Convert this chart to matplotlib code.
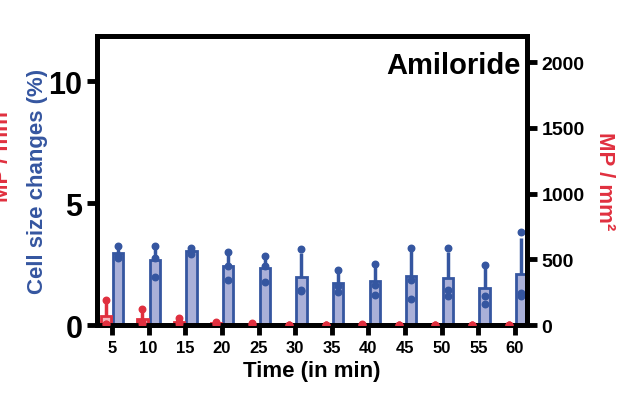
import matplotlib.pyplot as plt
import numpy as np

plt.rcParams["font.family"] = "Liberation Sans"

TIMES = [5, 10, 15, 20, 25, 30, 35, 40, 45, 50, 55, 60]
# cell size changes (%) per replicate
CELL_SIZE = [
    [3.25, 2.85, 2.75], [3.25, 2.75, 1.95], [3.15, 3.05, 2.9], [3.0, 2.4, 1.85],
    [2.85, 2.4, 1.75], [3.1, 1.45, 1.4], [2.25, 1.6, 1.35], [2.5, 1.65, 1.25],
    [3.15, 1.85, 1.05], [3.15, 1.45, 1.2], [2.45, 1.2, 0.85], [3.8, 1.3, 1.2],
]
# MP / mm2 per replicate
MP = [
    [190, 10, 5], [120, 20, 5], [50, 20, 5], [20, 10, 5], [15, 5, 0], [0, 0, 0],
    [0, 0, 0], [10, 0, 0], [0, 0, 0], [0, 0, 0], [0, 0, 0], [0, 0, 0],
]

BLUE, BLUE_FILL = "#3556a0", "#aab0d8"
RED, RED_FILL = "#e0303f", "#f4b8bf"

fig = plt.figure(figsize=(6.42, 4.02), dpi=100)
ax = fig.add_axes([0.151, 0.189, 0.670, 0.719])
ax2 = ax.twinx()

x = np.arange(len(TIMES))
w = 0.28


def draw(axis, data, xpos, col, fill):
    data = np.array(data, dtype=float)
    m = data.mean(axis=1)
    sd = data.std(axis=1, ddof=1)
    axis.bar(xpos, m, width=w, color=fill, edgecolor=col, linewidth=2, zorder=2)
    axis.errorbar(xpos, m, yerr=[np.zeros_like(sd), sd], fmt="none", ecolor=col,
                  elinewidth=2.5, capsize=0, zorder=3)
    for i in range(len(xpos)):
        axis.scatter([xpos[i]] * data.shape[1], data[i], s=22, color=col, zorder=4)


draw(ax, CELL_SIZE, x + 0.17, BLUE, BLUE_FILL)
draw(ax2, MP, x - 0.17, RED, RED_FILL)

ax.set_xlim(-0.41, 11.33)
ax.set_ylim(0, 11.85)
ax2.set_ylim(0, 2200)
ax.set_yticks([0, 5, 10])
ax2.set_yticks([0, 500, 1000, 1500, 2000])
ax.set_xticks(x)
ax.set_xticklabels([str(t) for t in TIMES], fontsize=12, fontweight="bold")
for lab in ax.get_yticklabels():
    lab.set_fontsize(22)
    lab.set_fontweight("bold")
for lab in ax2.get_yticklabels():
    lab.set_fontsize(14)
    lab.set_fontweight("bold")

for a in (ax, ax2):
    for s in a.spines.values():
        s.set_linewidth(3.5)
    a.tick_params(width=3.5, length=7)

ax.set_xlabel("Time (in min)", fontsize=16, fontweight="bold")
ax.set_ylabel("Cell size changes (%)", fontsize=16, fontweight="bold", color=BLUE, labelpad=0)
ax2.set_ylabel("MP / mm²", fontsize=16, fontweight="bold", color=RED, rotation=-90, labelpad=22)
fig.text(0.004, 0.62, "MP / mm²", fontsize=16, fontweight="bold", color=RED,
         rotation=90, ha="center", va="center")
ax.text(0.985, 0.9, "Amiloride", transform=ax.transAxes, ha="right", va="center",
        fontsize=21, fontweight="bold")

fig.savefig("out.png", dpi=100)
